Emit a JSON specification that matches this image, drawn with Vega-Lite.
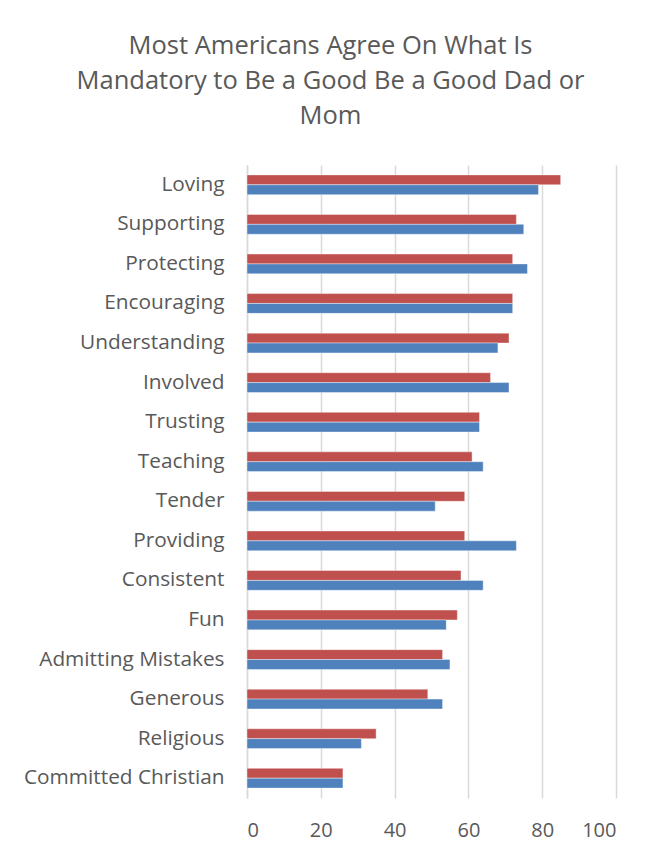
{
  "$schema": "https://vega.github.io/schema/vega-lite/v6.json",
  "autosize": {"type": "none"},
  "width": 369,
  "height": 633,
  "padding": {"left": 247, "top": 165, "right": 40, "bottom": 58},
  "background": "white",
  "title": {
    "text": ["Most Americans Agree On What Is", "Mandatory to Be a Good Be a Good Dad or", "Mom"],
    "anchor": "middle",
    "dx": -101,
    "offset": 36,
    "font": "Open Sans",
    "fontSize": 25.5,
    "fontWeight": "normal",
    "color": "#595959",
    "lineHeight": 35
  },
  "data": {
    "values": [
      {"trait": "Loving", "series": "Mom", "value": 85},
      {"trait": "Loving", "series": "Dad", "value": 79},
      {"trait": "Supporting", "series": "Mom", "value": 73},
      {"trait": "Supporting", "series": "Dad", "value": 75},
      {"trait": "Protecting", "series": "Mom", "value": 72},
      {"trait": "Protecting", "series": "Dad", "value": 76},
      {"trait": "Encouraging", "series": "Mom", "value": 72},
      {"trait": "Encouraging", "series": "Dad", "value": 72},
      {"trait": "Understanding", "series": "Mom", "value": 71},
      {"trait": "Understanding", "series": "Dad", "value": 68},
      {"trait": "Involved", "series": "Mom", "value": 66},
      {"trait": "Involved", "series": "Dad", "value": 71},
      {"trait": "Trusting", "series": "Mom", "value": 63},
      {"trait": "Trusting", "series": "Dad", "value": 63},
      {"trait": "Teaching", "series": "Mom", "value": 61},
      {"trait": "Teaching", "series": "Dad", "value": 64},
      {"trait": "Tender", "series": "Mom", "value": 59},
      {"trait": "Tender", "series": "Dad", "value": 51},
      {"trait": "Providing", "series": "Mom", "value": 59},
      {"trait": "Providing", "series": "Dad", "value": 73},
      {"trait": "Consistent", "series": "Mom", "value": 58},
      {"trait": "Consistent", "series": "Dad", "value": 64},
      {"trait": "Fun", "series": "Mom", "value": 57},
      {"trait": "Fun", "series": "Dad", "value": 54},
      {"trait": "Admitting Mistakes", "series": "Mom", "value": 53},
      {"trait": "Admitting Mistakes", "series": "Dad", "value": 55},
      {"trait": "Generous", "series": "Mom", "value": 49},
      {"trait": "Generous", "series": "Dad", "value": 53},
      {"trait": "Religious", "series": "Mom", "value": 35},
      {"trait": "Religious", "series": "Dad", "value": 31},
      {"trait": "Committed Christian", "series": "Mom", "value": 26},
      {"trait": "Committed Christian", "series": "Dad", "value": 26}
    ]
  },
  "mark": {"type": "bar", "stroke": "white", "strokeOpacity": 0.5, "strokeWidth": 0.8},
  "encoding": {
    "y": {
      "field": "trait",
      "type": "nominal",
      "sort": null,
      "scale": {"paddingInner": 0.5, "paddingOuter": 0.25},
      "axis": {
        "title": null,
        "ticks": false,
        "domain": true,
        "domainColor": "#d9d9d9",
        "domainWidth": 1.5,
        "labelFont": "Open Sans",
        "labelFontSize": 20.8,
        "labelColor": "#595959",
        "labelPadding": 23,
        "labelLimit": 300
      }
    },
    "yOffset": {"field": "series", "type": "nominal", "sort": ["Mom", "Dad"]},
    "x": {
      "field": "value",
      "type": "quantitative",
      "scale": {"domain": [0, 100], "nice": false},
      "axis": {
        "title": null,
        "values": [0, 20, 40, 60, 80, 100],
        "ticks": false,
        "domain": false,
        "grid": true,
        "gridColor": "#d9d9d9",
        "gridWidth": 1.5,
        "labelFont": "Open Sans",
        "labelFontSize": 20,
        "labelColor": "#595959",
        "labelPadding": 22
      }
    },
    "color": {
      "field": "series",
      "type": "nominal",
      "scale": {"domain": ["Mom", "Dad"], "range": ["#C0504D", "#4F81BD"]},
      "legend": null
    }
  },
  "config": {"view": {"stroke": null}}
}
